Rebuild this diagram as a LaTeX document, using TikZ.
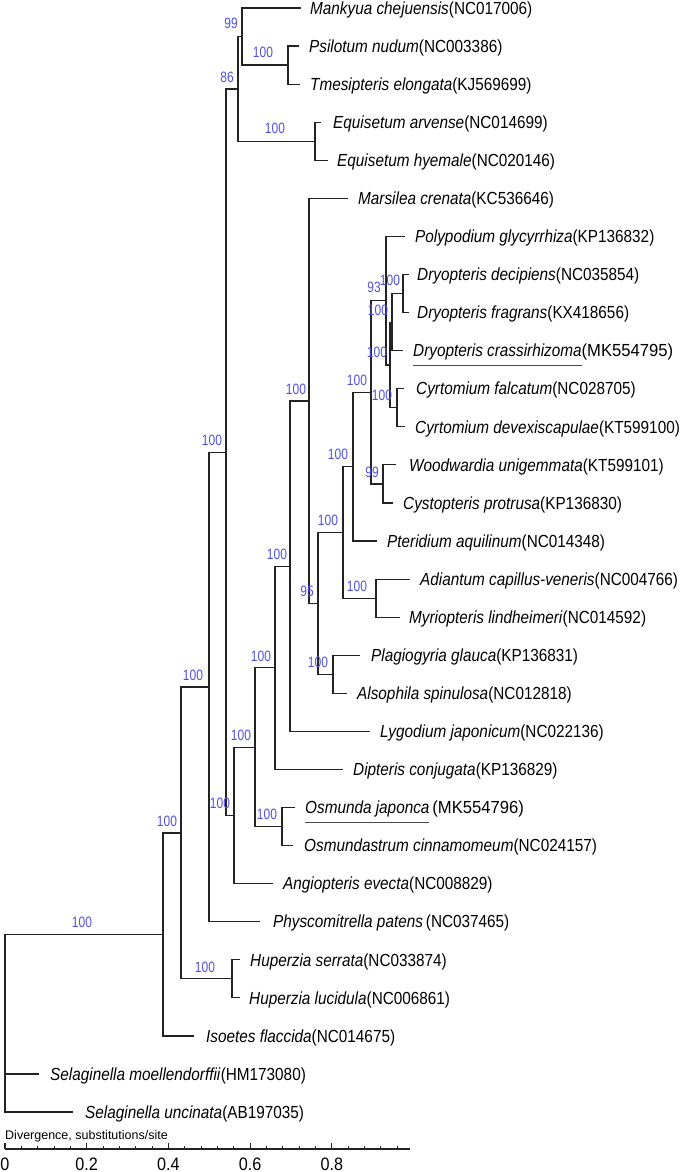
\documentclass[tikz,border=0pt]{standalone}
\usepackage{fontspec}
\setmainfont{Liberation Sans}
\newfontfamily\leaffont{Liberation Sans}[FakeStretch=0.875]
\newfontfamily\bsfont{Liberation Sans}[FakeStretch=0.8]
\newfontfamily\tickfont{Liberation Sans}[FakeStretch=0.9]
\newfontfamily\idfont{Liberation Sans}[FakeStretch=0.95]
\definecolor{bscol}{RGB}{80,80,225}
\definecolor{brcol}{RGB}{35,35,35}
\newcommand\ulname[1]{\begingroup\setbox0\hbox{#1}\rlap{\textcolor{black!70}{\rule[-9pt]{\wd0}{0.7pt}}}\box0\endgroup}
\begin{document}
\begin{tikzpicture}[x=1pt,y=-1pt,
  br/.style={draw=brcol, line width=1.2pt},
  leaf/.style={anchor=base west, inner sep=0pt, yshift=-6.2pt, font=\leaffont\fontsize{17.5}{19}\selectfont},
  bs/.style={inner sep=0pt, text=bscol, font=\bsfont\fontsize{15}{17}\selectfont},
  axl/.style={draw=brcol, line width=1.2pt},
  ticklab/.style={anchor=base, inner sep=0pt, font=\tickfont\fontsize{18}{20}\selectfont}]
\useasboundingbox (0,0) rectangle (685,1172);

% ---------- leaf tips ----------
\coordinate (t0) at (301,8);
\coordinate (t1) at (299,46.1);
\coordinate (t2) at (300,84.1);
\coordinate (t3) at (321,122.2);
\coordinate (t4) at (328,160.3);
\coordinate (t5) at (348,198.4);
\coordinate (t6) at (405,236.4);
\coordinate (t7) at (409,274.5);
\coordinate (t8) at (409,312.6);
\coordinate (t9) at (403,350.6);
\coordinate (t10) at (404,388.7);
\coordinate (t11) at (405,426.8);
\coordinate (t12) at (396,464.8);
\coordinate (t13) at (393,502.9);
\coordinate (t14) at (377,541.0);
\coordinate (t15) at (410,579.1);
\coordinate (t16) at (400,617.1);
\coordinate (t17) at (360,655.2);
\coordinate (t18) at (347,693.3);
\coordinate (t19) at (370,731.3);
\coordinate (t20) at (343,769.4);
\coordinate (t21) at (295,807.5);
\coordinate (t22) at (293,845.5);
\coordinate (t23) at (273,883.6);
\coordinate (t24) at (260,921.7);
\coordinate (t25) at (240,959.8);
\coordinate (t26) at (240,997.8);
\coordinate (t27) at (194,1035.9);
\coordinate (t28) at (39,1074.0);
\coordinate (t29) at (73,1112.0);

% ---------- internal nodes ----------
\coordinate (nPs) at (288,65.1);
\coordinate (n99) at (242,36.6);
\coordinate (nEq) at (315,141.3);
\coordinate (n86) at (238,89);
\coordinate (U) at (403,293.6);
\coordinate (X) at (392,322.1);
\coordinate (V) at (397,407.8);
\coordinate (T) at (390,365);
\coordinate (R) at (386,300.7);
\coordinate (S) at (383,483.9);
\coordinate (Q) at (371,392.3);
\coordinate (O) at (353,466.7);
\coordinate (P) at (376,598.1);
\coordinate (M) at (343,532.4);
\coordinate (N) at (333,674.3);
\coordinate (L) at (318,603.3);
\coordinate (K) at (309,400.9);
\coordinate (J) at (290,566.1);
\coordinate (I) at (275,667.8);
\coordinate (Os) at (282,826.5);
\coordinate (H) at (255,747.1);
\coordinate (G) at (234,815.4);
\coordinate (E) at (226,452.2);
\coordinate (C) at (209,687);
\coordinate (Hup) at (232,978.8);
\coordinate (B) at (181,832.9);
\coordinate (A) at (163,934.4);
\coordinate (root) at (5,934.4);

% ---------- branches ----------
\draw[br] (root) |- (A);
\draw[br] (root) |- (t28);
\draw[br] (root) |- (t29);
\draw[br] (A) |- (B);
\draw[br] (A) |- (t27);
\draw[br] (B) |- (C);
\draw[br] (B) |- (Hup);
\draw[br] (Hup) |- (t25);
\draw[br] (Hup) |- (t26);
\draw[br] (C) |- (E);
\draw[br] (C) |- (t24);
\draw[br] (E) |- (n86);
\draw[br] (E) |- (G);
\draw[br] (n86) |- (n99);
\draw[br] (n86) |- (nEq);
\draw[br] (n99) |- (t0);
\draw[br] (n99) |- (nPs);
\draw[br] (nPs) |- (t1);
\draw[br] (nPs) |- (t2);
\draw[br] (nEq) |- (t3);
\draw[br] (nEq) |- (t4);
\draw[br] (G) |- (H);
\draw[br] (G) |- (t23);
\draw[br] (H) |- (I);
\draw[br] (H) |- (Os);
\draw[br] (Os) |- (t21);
\draw[br] (Os) |- (t22);
\draw[br] (I) |- (J);
\draw[br] (I) |- (t20);
\draw[br] (J) |- (K);
\draw[br] (J) |- (t19);
\draw[br] (K) |- (t5);
\draw[br] (K) |- (L);
\draw[br] (L) |- (M);
\draw[br] (L) |- (N);
\draw[br] (N) |- (t17);
\draw[br] (N) |- (t18);
\draw[br] (M) |- (O);
\draw[br] (M) |- (P);
\draw[br] (P) |- (t15);
\draw[br] (P) |- (t16);
\draw[br] (O) |- (Q);
\draw[br] (O) |- (t14);
\draw[br] (Q) |- (R);
\draw[br] (Q) |- (S);
\draw[br] (S) |- (t12);
\draw[br] (S) |- (t13);
\draw[br] (R) |- (t6);
\draw[br] (R) |- (T);
\draw[br] (T) |- (X);
\draw[br] (T) |- (V);
\draw[br] (X) |- (U);
\draw[br] (X) |- (t9);
\draw[br] (U) |- (t7);
\draw[br] (U) |- (t8);
\draw[br] (V) |- (t10);
\draw[br] (V) |- (t11);

% ---------- leaf labels ----------
\node[leaf] (l0) at (310,8) {\textit{Mankyua chejuensis}(NC017006)};
\node[leaf] (l1) at (309,46.1) {\textit{Psilotum nudum}(NC003386)};
\node[leaf] (l2) at (310,84.1) {\textit{Tmesipteris elongata}(KJ569699)};
\node[leaf] (l3) at (333,122.2) {\textit{Equisetum arvense}(NC014699)};
\node[leaf] (l4) at (337,160.3) {\textit{Equisetum hyemale}(NC020146)};
\node[leaf] (l5) at (358,198.4) {\textit{Marsilea crenata}(KC536646)};
\node[leaf] (l6) at (415,236.4) {\textit{Polypodium glycyrrhiza}(KP136832)};
\node[leaf] (l7) at (417,274.5) {\textit{Dryopteris decipiens}(NC035854)};
\node[leaf] (l8) at (417,312.6) {\textit{Dryopteris fragrans}(KX418656)};
\node[leaf] (l9) at (413,350.6) {\ulname{\textit{Dryopteris crassirhizoma}}{\idfont (MK554795)}};
\node[leaf] (l10) at (416,388.7) {\textit{Cyrtomium falcatum}(NC028705)};
\node[leaf] (l11) at (415,426.8) {\textit{Cyrtomium devexiscapulae}(KT599100)};
\node[leaf] (l12) at (409,464.8) {\textit{Woodwardia unigemmata}(KT599101)};
\node[leaf] (l13) at (403,502.9) {\textit{Cystopteris protrusa}(KP136830)};
\node[leaf] (l14) at (387,541.0) {\textit{Pteridium aquilinum}(NC014348)};
\node[leaf] (l15) at (420,579.1) {\textit{Adiantum capillus-veneris}(NC004766)};
\node[leaf] (l16) at (409,617.1) {\textit{Myriopteris lindheimeri}(NC014592)};
\node[leaf] (l17) at (371,655.2) {\textit{Plagiogyria glauca}(KP136831)};
\node[leaf] (l18) at (357,693.3) {\textit{Alsophila spinulosa}(NC012818)};
\node[leaf] (l19) at (380,731.3) {\textit{Lygodium japonicum}(NC022136)};
\node[leaf] (l20) at (353,769.4) {\textit{Dipteris conjugata}(KP136829)};
\node[leaf] (l21) at (305,807.5) {\ulname{\textit{Osmunda japonca}}\,{\idfont (MK554796)}};
\node[leaf] (l22) at (304,845.5) {\textit{Osmundastrum cinnamomeum}(NC024157)};
\node[leaf] (l23) at (283,883.6) {\textit{Angiopteris evecta}(NC008829)};
\node[leaf] (l24) at (273,921.7) {\textit{Physcomitrella patens}\,(NC037465)};
\node[leaf] (l25) at (250,959.8) {\textit{Huperzia serrata}(NC033874)};
\node[leaf] (l26) at (249,997.8) {\textit{Huperzia lucidula}(NC006861)};
\node[leaf] (l27) at (206,1035.9) {\textit{Isoetes flaccida}(NC014675)};
\node[leaf] (l28) at (50,1074.0) {\textit{Selaginella moellendorffii}(HM173080)};
\node[leaf] (l29) at (85,1112.0) {\textit{Selaginella uncinata}(AB197035)};

% ---------- bootstrap values ----------
\node[bs] (b99) at (231,23) {99};
\node[bs] (bPs) at (263,52) {100};
\node[bs] (b86) at (227,77) {86};
\node[bs] (bEq) at (275,128) {100};
\node[bs] (bE) at (212,440) {100};
\node[bs] (bK) at (296,389) {100};
\node[bs] (bQ) at (357,380) {100};
\node[bs] (bR) at (374,287) {93};
\node[bs] (bU) at (390,280) {100};
\node[bs] (bX) at (378,310) {100};
\node[bs] (bT) at (377,352) {100};
\node[bs] (bV) at (382,395) {100};
\node[bs] (bO) at (338,454) {100};
\node[bs] (bS) at (372,472) {99};
\node[bs] (bM) at (328,520) {100};
\node[bs] (bJ) at (277,554) {100};
\node[bs] (bP) at (357,586) {100};
\node[bs] (bL) at (307,591) {95};
\node[bs] (bI) at (261,656) {100};
\node[bs] (bN) at (318,662) {100};
\node[bs] (bC) at (193,675) {100};
\node[bs] (bH) at (241,735) {100};
\node[bs] (bG) at (220,803) {100};
\node[bs] (bOs) at (267,814) {100};
\node[bs] (bB) at (167,821) {100};
\node[bs] (bA) at (82,922) {100};
\node[bs] (bHup) at (205,967) {100};

% ---------- scale axis ----------
\node[anchor=base west, inner sep=0pt, font=\fontsize{12.5}{14}\selectfont] (divlab) at (5,1139) {Divergence, substitutions/site};
\coordinate (ax0) at (5,1149);
\coordinate (ax1) at (410,1149);
\draw[axl] (ax0) -- (ax1);
\foreach \k in {1,...,24} {
  \draw[axl, line width=0.9pt] ({5+408.5*0.04*\k},1149) -- ++(0,-3.5);
}
\foreach \v/\lab in {0/0,0.2/0.2,0.4/0.4,0.6/0.6,0.8/0.8} {
  \draw[axl] ({5+408.5*\v},1149) -- ++(0,-6.5);
  \node[ticklab] at ({5+408.5*\v},1170) {\lab};
}
\end{tikzpicture}
\end{document}
